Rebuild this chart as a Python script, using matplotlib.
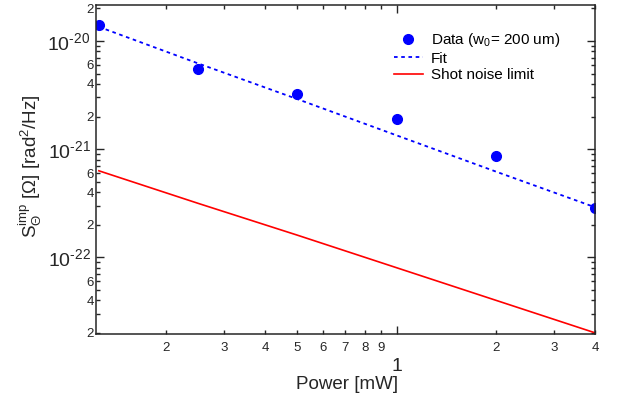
import math
import matplotlib
matplotlib.use("Agg")
import matplotlib.pyplot as plt
from matplotlib.ticker import FixedLocator, FuncFormatter

plt.rcParams['font.family'] = ['Liberation Sans', 'DejaVu Sans']
plt.rcParams['mathtext.fontset'] = 'custom'
plt.rcParams['mathtext.rm'] = 'Liberation Sans'
plt.rcParams['mathtext.it'] = 'Liberation Sans:italic'
plt.rcParams['mathtext.bf'] = 'Liberation Sans:bold'

# Data
power_mw = [0.125, 0.25, 0.5, 1, 2, 4]
s_data = [1.39e-20, 5.5e-21, 3.25e-21, 1.9e-21, 8.6e-22, 2.85e-22]
s_fit = [1.35e-20, 6.2e-21, 2.9e-21, 1.34e-21, 6.2e-22, 2.9e-22]
s_shot = [6.3e-22, 3.15e-22, 1.6e-22, 8.0e-23, 4.0e-23, 2.0e-23]

x_minor = [0.2, 0.3, 0.4, 0.5, 0.6, 0.7, 0.8, 0.9, 2, 3, 4]
y_major = [1e-22, 1e-21, 1e-20]
y_minor = [d * 10.0 ** e for e in (-23, -22, -21, -20) for d in range(2, 10)]
y_minor = [v for v in y_minor if 1.95e-23 <= v <= 2.15e-20]

fig = plt.figure(figsize=(6.22, 4.03), dpi=100)
ax = fig.add_axes([0.1543, 0.1712, 0.8023, 0.8164])

ax.plot(power_mw, s_data, 'o', color='#0000ff', markersize=7,
        label='Data (w$_0$= 200 um)')
ax.plot(power_mw, s_fit, color='#0000ff', lw=1.3, linestyle=(0, (2, 2)),
        label='Fit')
ax.plot(power_mw, s_shot, color='#ff0000', lw=1.2, label='Shot noise limit')

ax.set_xscale('log')
ax.set_yscale('log')
ax.set_xlim(0.1225, 4.0)
ax.set_ylim(1.95e-23, 2.15e-20)


def first_digit(v):
    return round(v / 10 ** math.floor(math.log10(v) + 1e-9))


def minor_y(v, pos):
    d = first_digit(v)
    return '%d' % d if d in (2, 4, 6) else ''


def major_y(v, pos):
    # hyphen instead of the mathtext minus, like the original
    return '10$^{\u2010%d}$' % abs(round(math.log10(v)))


ax.xaxis.set_major_locator(FixedLocator([1]))
ax.xaxis.set_major_formatter(FuncFormatter(lambda v, p: '%g' % v))
ax.xaxis.set_minor_locator(FixedLocator(x_minor))
ax.xaxis.set_minor_formatter(FuncFormatter(lambda v, p: '%d' % first_digit(v)))
ax.yaxis.set_major_locator(FixedLocator(y_major))
ax.yaxis.set_major_formatter(FuncFormatter(major_y))
ax.yaxis.set_minor_locator(FixedLocator(y_minor))
ax.yaxis.set_minor_formatter(FuncFormatter(minor_y))

ax.tick_params(which='both', direction='in', top=True, right=True, width=1,
               colors='#262626')
ax.tick_params(which='major', length=6, labelsize=14)
ax.tick_params(which='minor', length=3, labelsize=9.5)
ax.tick_params(axis='x', which='minor', pad=6)
ax.tick_params(axis='x', which='major', pad=17)
ax.tick_params(axis='y', which='minor', pad=1.5)
ax.tick_params(axis='y', which='major', pad=4)
for sp in ax.spines.values():
    sp.set_linewidth(1.1)
    sp.set_color('#262626')

ax.set_xlabel('Power [mW]', fontsize=13.5, color='#262626')
ax.xaxis.set_label_coords(0.503, -0.128)
ax.set_ylabel(r'S$_\Theta^{\rm imp}$ [Ω] [rad$^2$/Hz]', fontsize=13.5,
              color='#262626')
ax.yaxis.set_label_coords(-0.104, 0.51)

ax.legend(loc='upper left', bbox_to_anchor=(0.597, 0.921), frameon=False,
          borderpad=0, borderaxespad=0, fontsize=11, handlelength=1.9,
          handletextpad=0.53, labelspacing=0.18)

fig.savefig('out.png', dpi=100)
